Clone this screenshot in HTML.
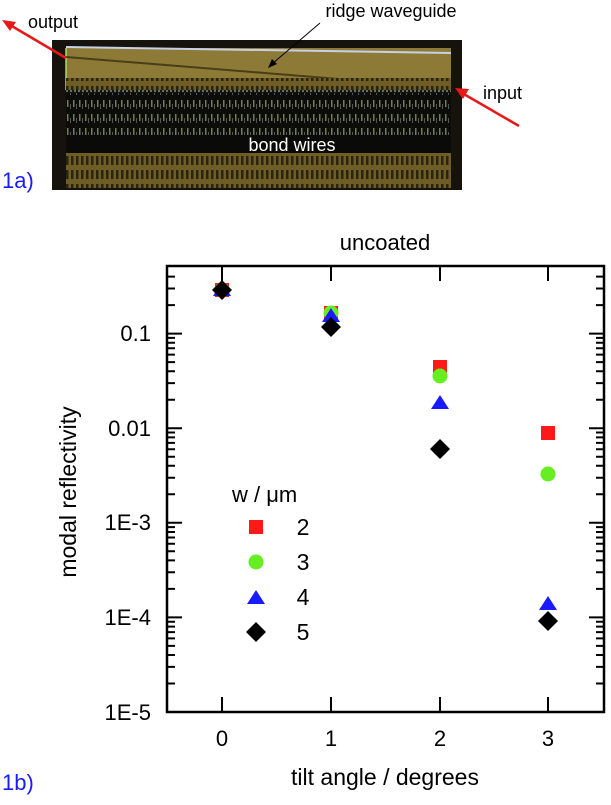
<!DOCTYPE html>
<html><head><meta charset="utf-8"><style>
body{margin:0;background:#fff;}
</style></head><body>
<svg width="611" height="800" xmlns="http://www.w3.org/2000/svg" font-family="Liberation Sans, Arial, sans-serif">
<defs>
<pattern id="wires" width="6" height="14" patternUnits="userSpaceOnUse">
<rect width="6" height="14" fill="#0c0c08"/>
<rect x="1" y="2" width="1.5" height="7" fill="#c8d898" opacity="0.55"/>
<rect x="4" y="6" width="1" height="5" fill="#e0e0ff" opacity="0.35"/>
</pattern>
<pattern id="pads" width="5" height="14" patternUnits="userSpaceOnUse">
<rect width="5" height="14" fill="#6e5e26"/>
<rect x="1" y="2" width="2.5" height="9" fill="#2a2410"/>
</pattern>
</defs>
<!-- photo -->
<rect x="52" y="40" width="410" height="150" fill="#15130c"/>
<rect x="66" y="48" width="385" height="42" fill="#8c7a36"/>
<line x1="66" y1="47" x2="451" y2="53" stroke="#c8d0e8" stroke-width="2"/>
<line x1="66" y1="48" x2="66" y2="90" stroke="#a8e060" stroke-width="1.5"/>
<line x1="66" y1="57" x2="451" y2="88" stroke="#4a3e18" stroke-width="2"/>
<rect x="66" y="78" width="385" height="12" fill="url(#pads)"/>
<line x1="66" y1="91" x2="451" y2="91" stroke="#9ad0d0" stroke-width="1" stroke-dasharray="2,2"/>
<rect x="66" y="93" width="385" height="42" fill="url(#wires)"/>
<rect x="66" y="135" width="385" height="18" fill="#0a0a08"/>
<rect x="66" y="153" width="385" height="35" fill="url(#pads)"/>
<text x="292" y="151" font-size="18" fill="#fff" text-anchor="middle">bond wires</text>
<text x="391" y="17" font-size="18" fill="#000" text-anchor="middle">ridge waveguide</text>
<line x1="320" y1="23" x2="272" y2="64" stroke="#000" stroke-width="1"/>
<polygon points="268,68 272,59 277,64" fill="#000"/>
<text x="28" y="28" font-size="18" fill="#000">output</text>
<line x1="66" y1="58" x2="10" y2="25" stroke="#e81818" stroke-width="2.5"/>
<polygon points="2,20 16,22 10,31" fill="#e81818"/>
<text x="483" y="99" font-size="18" fill="#000">input</text>
<line x1="519" y1="126" x2="462" y2="93" stroke="#e81818" stroke-width="2.5"/>
<polygon points="455,88 469,89 463,99" fill="#e81818"/>
<text x="2" y="188" font-size="22" fill="#1a1aff">1a)</text>

<!-- plot -->
<text x="385" y="250" font-size="22" text-anchor="middle">uncoated</text>
<rect x="167" y="266" width="437" height="446" fill="none" stroke="#000" stroke-width="2.5"/>
<g stroke="#000" stroke-width="2">
<path d="M167 333.6h15M167 428.2h15M167 522.8h15M167 617.4h15M604 333.6h-15M604 428.2h-15M604 522.8h-15M604 617.4h-15"/>
<path d="M167 683.5h8M167 666.9h8M167 655h8M167 645.9h8M167 638.4h8M167 632.1h8M167 626.6h8M167 621.7h8
M167 588.9h8M167 572.3h8M167 560.4h8M167 551.3h8M167 543.8h8M167 537.5h8M167 532h8M167 527.1h8
M167 494.3h8M167 477.7h8M167 465.8h8M167 456.7h8M167 449.2h8M167 442.9h8M167 437.4h8M167 432.5h8
M167 399.7h8M167 383.1h8M167 371.2h8M167 362.1h8M167 354.6h8M167 348.3h8M167 342.8h8M167 337.9h8
M167 305.1h8M167 288.5h8M167 276.6h8
M604 683.5h-8M604 666.9h-8M604 655h-8M604 645.9h-8M604 638.4h-8M604 632.1h-8M604 626.6h-8M604 621.7h-8
M604 588.9h-8M604 572.3h-8M604 560.4h-8M604 551.3h-8M604 543.8h-8M604 537.5h-8M604 532h-8M604 527.1h-8
M604 494.3h-8M604 477.7h-8M604 465.8h-8M604 456.7h-8M604 449.2h-8M604 442.9h-8M604 437.4h-8M604 432.5h-8
M604 399.7h-8M604 383.1h-8M604 371.2h-8M604 362.1h-8M604 354.6h-8M604 348.3h-8M604 342.8h-8M604 337.9h-8
M604 305.1h-8M604 288.5h-8M604 276.6h-8"/>
<path d="M222 712v-15M331 712v-15M440 712v-15M548 712v-15M222 266v15M331 266v15M440 266v15M548 266v15"/>
</g>
<g font-size="22" text-anchor="end">
<text x="151" y="341">0.1</text>
<text x="151" y="436">0.01</text>
<text x="151" y="530">1E-3</text>
<text x="151" y="625">1E-4</text>
<text x="151" y="720">1E-5</text>
</g>
<g font-size="22" text-anchor="middle">
<text x="222" y="746">0</text>
<text x="331" y="746">1</text>
<text x="440" y="746">2</text>
<text x="548" y="746">3</text>
</g>
<text x="385" y="785" font-size="23" text-anchor="middle">tilt angle / degrees</text>
<text transform="translate(76,492) rotate(-90)" font-size="23" text-anchor="middle">modal reflectivity</text>
<text x="2" y="790" font-size="22" fill="#1a1aff">1b)</text>

<!-- data -->
<g fill="#ff1a1a">
<rect x="215" y="283" width="14" height="14"/>
<rect x="324" y="306" width="14" height="14"/>
<rect x="433" y="360" width="14" height="14"/>
<rect x="541" y="426" width="14" height="14"/>
</g>
<g fill="#66ee22">
<circle cx="222" cy="290" r="7.5"/>
<circle cx="331" cy="313" r="7.5"/>
<circle cx="440" cy="376" r="7.5"/>
<circle cx="548" cy="474" r="7.5"/>
</g>
<g fill="#1a1aff">
<polygon points="222,282 231,296 213,296"/>
<polygon points="331,308 340,322 322,322"/>
<polygon points="440,395 449,409 431,409"/>
<polygon points="548,596 557,610 539,610"/>
</g>
<g fill="#000">
<polygon points="222,280 232,290 222,300 212,290"/>
<polygon points="331,317 341,327 331,337 321,327"/>
<polygon points="440,439 450,449 440,459 430,449"/>
<polygon points="548,611 558,621 548,631 538,621"/>
</g>
<!-- legend -->
<text x="232" y="502" font-size="22">w / μm</text>
<rect x="249" y="520" width="14" height="14" fill="#ff1a1a"/>
<circle cx="256" cy="562" r="7.5" fill="#66ee22"/>
<polygon points="256,590 265,604 247,604" fill="#1a1aff"/>
<polygon points="256,622 266,632 256,642 246,632" fill="#000"/>
<g font-size="23" text-anchor="middle">
<text x="303" y="535">2</text>
<text x="303" y="570">3</text>
<text x="303" y="605">4</text>
<text x="303" y="640">5</text>
</g>
</svg>
</body></html>
